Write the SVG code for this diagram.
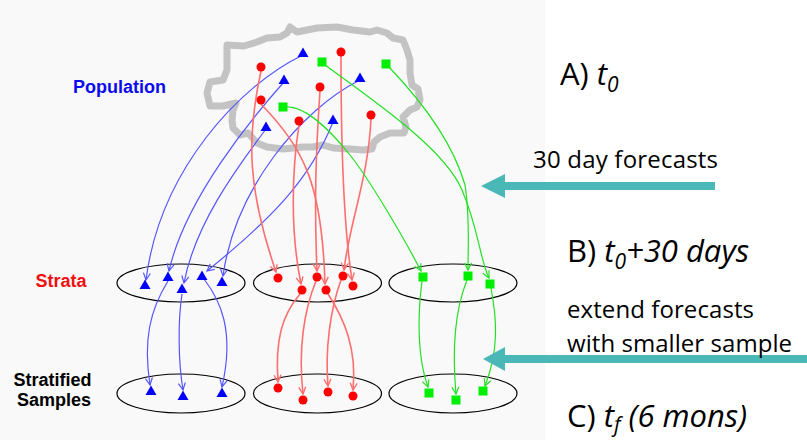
<svg xmlns="http://www.w3.org/2000/svg" width="807" height="440" viewBox="0 0 807 440">
<defs>
<style>
.bl{fill:none;stroke:#5555ff;stroke-width:1.2}
.rd{fill:none;stroke:#ff6e6e;stroke-width:1.6}
.gr{fill:none;stroke:#22e022;stroke-width:1.2}
.bn{fill:#0000ff}
.rn{fill:#ff0000}
.gn{fill:#00ee00}
.ell{fill:none;stroke:#000;stroke-width:1.2}
.lbl{font-family:"Liberation Sans",Arial,sans-serif;font-weight:bold;font-size:18px;text-anchor:middle}
.rt{font-family:"Open Sans","Liberation Sans",sans-serif;fill:#000}
.teal{fill:#4bb8b8}
</style>
<marker id="mb" viewBox="-9 -5 10 10" refX="0" refY="0" markerWidth="10" markerHeight="10" markerUnits="userSpaceOnUse" orient="auto"><path d="M-7,-3.5 L0,0 L-7,3.5" fill="none" stroke="#5555ff" stroke-width="1.2"/></marker>
<marker id="mr" viewBox="-9 -5 10 10" refX="0" refY="0" markerWidth="10" markerHeight="10" markerUnits="userSpaceOnUse" orient="auto"><path d="M-7,-3.5 L0,0 L-7,3.5" fill="none" stroke="#ff6e6e" stroke-width="1.4"/></marker>
<marker id="mg" viewBox="-9 -5 10 10" refX="0" refY="0" markerWidth="10" markerHeight="10" markerUnits="userSpaceOnUse" orient="auto"><path d="M-7,-3.5 L0,0 L-7,3.5" fill="none" stroke="#22e022" stroke-width="1.2"/></marker>
<polygon id="tri" points="0,-5.5 5.5,4 -5.5,4"/>
<rect id="sq" x="-4.5" y="-4.5" width="9" height="9"/>
</defs>
<rect x="0" y="0" width="807" height="440" fill="#ffffff"/>
<rect x="0" y="0" width="545" height="440" fill="#f9f9f9"/>

<g id="population-outline">
<path d="M227,70 L227,57 L227,45 L244,46 L257,42 L267,38 L280,37 L287,33 L290,27 L297,32 L317,28 L337,27 L353,30 L370,32 L377,30 L387,33 L393,38 L403,40 L407,50 L410,60 L410,73 L412,85 L418,89 L420,100 L417,107 L410,110 L403,117 L406,127 L404,133 L390,133 L380,137 L374,142 L372,149 L363,150 L350,149 L333,148 L323,145 L313,147 L303,147 L283,149 L267,147 L257,143 L248,133 L240,135 L233,128 L232,120 L233,110 L236,103 L223,106 L210,106 L207,93 L210,82 L223,80 Z" fill="none" stroke="#c3c3c3" stroke-width="7" stroke-linejoin="round"/>
</g>

<g id="labels">
<text class="lbl" x="119.5" y="93" fill="#0b0bf0">Population</text>
<text class="lbl" x="61" y="287" fill="#f01010">Strata</text>
<text class="lbl" x="52.5" y="386" fill="#000" font-size="17">Stratified</text>
<text class="lbl" x="54" y="406" fill="#000" font-size="17">Samples</text>
</g>

<g id="strata-ellipses">
<ellipse id="stratum-blue" class="ell" cx="181" cy="283" rx="64" ry="19"/>
<ellipse id="stratum-red" class="ell" cx="317.5" cy="283" rx="64" ry="19"/>
<ellipse id="stratum-green" class="ell" cx="453" cy="283" rx="64" ry="19"/>
</g>
<g id="sample-ellipses">
<ellipse id="sample-blue" class="ell" cx="181" cy="393.5" rx="64" ry="19.5"/>
<ellipse id="sample-red" class="ell" cx="317.5" cy="393.5" rx="64" ry="19.5"/>
<ellipse id="sample-green" class="ell" cx="453" cy="393.5" rx="64" ry="19.5"/>
</g>

<g id="connectors">
<path class="bl" marker-end="url(#mb)" d="M303,55 C240,85 160,170 146,280"/>
<path class="bl" marker-end="url(#mb)" d="M284,82 C250,120 185,200 169,271"/>
<path class="bl" marker-end="url(#mb)" d="M266,129 C235,170 195,225 184,283"/>
<path class="bl" marker-end="url(#mb)" d="M333,122 C310,180 270,220 207,271"/>
<path class="bl" marker-end="url(#mb)" d="M360,80 C300,110 235,190 223,276"/>
<path class="bl" marker-end="url(#mb)" d="M168,281 C150,310 143,340 150,385"/>
<path class="bl" marker-end="url(#mb)" d="M182,294 C178,320 178,360 183,390"/>
<path class="bl" marker-end="url(#mb)" d="M204,279 C220,300 235,330 222,387"/>

<path class="rd" marker-end="url(#mr)" d="M261,71 C246,140 248,190 276,272"/>
<path class="rd" marker-end="url(#mr)" d="M261,104 C305,150 322,185 325,284"/>
<path class="rd" marker-end="url(#mr)" d="M299,125 C292,170 290,230 301,284"/>
<path class="rd" marker-end="url(#mr)" d="M320,91 C316,150 314,200 317,271"/>
<path class="rd" marker-end="url(#mr)" d="M341,56 C341,150 344,230 352,280"/>
<path class="rd" marker-end="url(#mr)" d="M371,119 C368,180 350,220 344,270"/>
<path class="rd" marker-end="url(#mr)" d="M300,294 C282,315 275,340 278,382"/>
<path class="rd" marker-end="url(#mr)" d="M316,281 C304,310 298,350 303,394"/>
<path class="rd" marker-end="url(#mr)" d="M328,294 C345,320 357,350 353,390"/>
<path class="rd" marker-end="url(#mr)" d="M341,280 C330,310 325,350 328,386"/>

<path class="gr" marker-end="url(#mg)" d="M286,107 C305,106 330,130 350,155 C370,180 405,240 421,271"/>
<path class="gr" marker-end="url(#mg)" d="M325,65 C380,105 445,150 462,190 C479,230 480,260 489,278"/>
<path class="gr" marker-end="url(#mg)" d="M389,67 C430,110 455,150 465,185 C470,215 468,250 468,270"/>
<path class="gr" marker-end="url(#mg)" d="M422,281 C417,320 418,360 428,387"/>
<path class="gr" marker-end="url(#mg)" d="M467,280 C455,310 452,350 456,394"/>
<path class="gr" marker-end="url(#mg)" d="M491,288 C497,320 499,350 485,386"/>
</g>

<g id="pop-nodes">
<use href="#tri" class="bn" x="303" y="53"/>
<use href="#tri" class="bn" x="284" y="80"/>
<use href="#tri" class="bn" x="360" y="78"/>
<use href="#tri" class="bn" x="266" y="127"/>
<use href="#tri" class="bn" x="333" y="120"/>
<circle class="rn" cx="261" cy="67" r="4.5"/>
<circle class="rn" cx="341" cy="52" r="4.5"/>
<circle class="rn" cx="320" cy="87" r="4.5"/>
<circle class="rn" cx="261" cy="100" r="4.5"/>
<circle class="rn" cx="299" cy="121" r="4.5"/>
<circle class="rn" cx="371" cy="115" r="4.5"/>
<use href="#sq" class="gn" x="322" y="62"/>
<use href="#sq" class="gn" x="386" y="64"/>
<use href="#sq" class="gn" x="283" y="107"/>
</g>

<g id="strata-nodes">
<use href="#tri" class="bn" x="145" y="285"/>
<use href="#tri" class="bn" x="168" y="277"/>
<use href="#tri" class="bn" x="182" y="289"/>
<use href="#tri" class="bn" x="202" y="276"/>
<use href="#tri" class="bn" x="222" y="282"/>
<circle class="rn" cx="278" cy="278" r="4.5"/>
<circle class="rn" cx="302" cy="290" r="4.5"/>
<circle class="rn" cx="317" cy="277" r="4.5"/>
<circle class="rn" cx="326" cy="290" r="4.5"/>
<circle class="rn" cx="343" cy="276" r="4.5"/>
<circle class="rn" cx="353" cy="286" r="4.5"/>
<use href="#sq" class="gn" x="423" y="277"/>
<use href="#sq" class="gn" x="468" y="276"/>
<use href="#sq" class="gn" x="490" y="284"/>
</g>

<g id="sample-nodes">
<use href="#tri" class="bn" x="151" y="391"/>
<use href="#tri" class="bn" x="183" y="396"/>
<use href="#tri" class="bn" x="222" y="393"/>
<circle class="rn" cx="278" cy="388" r="4.5"/>
<circle class="rn" cx="303" cy="400" r="4.5"/>
<circle class="rn" cx="328" cy="392" r="4.5"/>
<circle class="rn" cx="353" cy="396" r="4.5"/>
<use href="#sq" class="gn" x="429" y="393"/>
<use href="#sq" class="gn" x="456" y="400"/>
<use href="#sq" class="gn" x="483" y="391"/>
</g>

<g id="timeline-arrows">
<polygon class="teal" points="481,186 505,174 505,182 715,182 715,190 505,190 505,198"/>
<polygon class="teal" points="483,359 505,347 505,355 807,355 807,363 505,363 505,371"/>
</g>

<g id="time-labels">
<text class="rt" x="560" y="85" font-size="31">A) <tspan font-style="italic">t</tspan><tspan font-style="italic" font-size="21" dy="7">0</tspan></text>
<text class="rt" x="533" y="168" font-size="24" textLength="185">30 day forecasts</text>
<text class="rt" x="567" y="262" font-size="31">B) <tspan font-style="italic">t</tspan><tspan font-style="italic" font-size="21" dy="7">0</tspan><tspan font-style="italic" dy="-7">+30 days</tspan></text>
<text class="rt" x="567" y="318" font-size="24" textLength="187">extend forecasts</text>
<text class="rt" x="567" y="352" font-size="24" textLength="225">with smaller sample</text>
<text class="rt" x="567" y="427" font-size="31">C) <tspan font-style="italic">t</tspan><tspan font-style="italic" font-size="21" dy="5">f</tspan><tspan font-style="italic" dy="-5"> (6 mons)</tspan></text>
</g>
</svg>
